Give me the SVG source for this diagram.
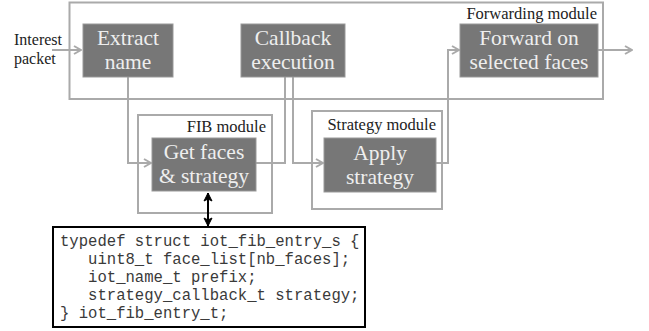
<svg xmlns="http://www.w3.org/2000/svg" width="649" height="331" viewBox="0 0 649 331">
<defs>
<style>
.module{fill:#fff;stroke:#aaa;stroke-width:2}
.node rect{fill:#777;stroke:#999;stroke-width:1}
.nt{font-family:"Liberation Serif",serif;font-size:21.5px;fill:#eee;text-anchor:middle}
.lbl{font-family:"Liberation Serif",serif;font-size:16.5px;fill:#222}
.conn{fill:none;stroke:#aaa;stroke-width:2}
.code{font-family:"Liberation Mono",monospace;font-size:15.6px;fill:#3a3a3a;white-space:pre}
</style>
<marker id="ah" viewBox="0 0 10 10" refX="9" refY="5" markerWidth="10" markerHeight="10" markerUnits="userSpaceOnUse" orient="auto">
<path d="M2,1 L9,5 L2,9" fill="none" stroke="#aaa" stroke-width="2"/>
</marker>
<marker id="bk" viewBox="0 0 10 10" refX="9" refY="5" markerWidth="10" markerHeight="10" markerUnits="userSpaceOnUse" orient="auto-start-reverse">
<path d="M1,1 L9,5 L1,9 L3,5 Z" fill="#000" stroke="#000" stroke-width="1"/>
</marker>
</defs>
<rect width="649" height="331" fill="#fff"/>
<g id="forwarding-module">
<rect class="module" x="69.5" y="2.5" width="533.5" height="96.5"/>
<text class="lbl" x="597" y="19" text-anchor="end">Forwarding module</text>
</g>
<g id="fib-module">
<rect class="module" x="138" y="115" width="134" height="98"/>
<text class="lbl" x="266" y="132" text-anchor="end">FIB module</text>
</g>
<g id="strategy-module">
<rect class="module" x="312" y="111" width="130" height="98"/>
<text class="lbl" x="436" y="130" text-anchor="end">Strategy module</text>
</g>
<g id="connectors">
<path class="conn" d="M52,50 H81" marker-end="url(#ah)"/>
<path class="conn" d="M128,77 V163 H151" marker-end="url(#ah)"/>
<path class="conn" d="M256,163 H285 V77"/>
<path class="conn" d="M293,77 V163 H323" marker-end="url(#ah)"/>
<path class="conn" d="M436,163 H448 V50 H459" marker-end="url(#ah)"/>
<path class="conn" d="M598,50 H632" marker-end="url(#ah)"/>
<path d="M208,193 V226" fill="none" stroke="#000" stroke-width="2" marker-start="url(#bk)" marker-end="url(#bk)"/>
</g>
<g id="interest-packet">
<text class="lbl" x="14" y="45" style="font-size:16px">Interest</text>
<text class="lbl" x="14" y="64" style="font-size:16px">packet</text>
</g>
<g id="extract-name" class="node">
<rect x="83" y="24" width="90" height="53"/>
<text class="nt" x="128" y="45">Extract</text>
<text class="nt" x="128" y="69">name</text>
</g>
<g id="callback-execution" class="node">
<rect x="241" y="24" width="104" height="53"/>
<text class="nt" x="293" y="45">Callback</text>
<text class="nt" x="293" y="69">execution</text>
</g>
<g id="forward-on-selected-faces" class="node">
<rect x="460" y="24" width="138" height="53"/>
<text class="nt" x="529" y="45">Forward on</text>
<text class="nt" x="529" y="69">selected faces</text>
</g>
<g id="get-faces" class="node">
<rect x="152" y="138" width="104" height="53"/>
<text class="nt" x="204" y="159">Get faces</text>
<text class="nt" x="204" y="183">&amp; strategy</text>
</g>
<g id="apply-strategy" class="node">
<rect x="324" y="138" width="112" height="54"/>
<text class="nt" x="380" y="160">Apply</text>
<text class="nt" x="380" y="184">strategy</text>
</g>
<g id="fib-entry-code">
<rect x="53" y="227" width="312" height="100" fill="#fff" stroke="#000" stroke-width="2"/>
<text class="code" x="60" y="246" xml:space="preserve">typedef struct iot_fib_entry_s {</text>
<text class="code" x="60" y="264" xml:space="preserve">   uint8_t face_list[nb_faces];</text>
<text class="code" x="60" y="282" xml:space="preserve">   iot_name_t prefix;</text>
<text class="code" x="60" y="300" xml:space="preserve">   strategy_callback_t strategy;</text>
<text class="code" x="60" y="318" xml:space="preserve">} iot_fib_entry_t;</text>
</g>
</svg>
